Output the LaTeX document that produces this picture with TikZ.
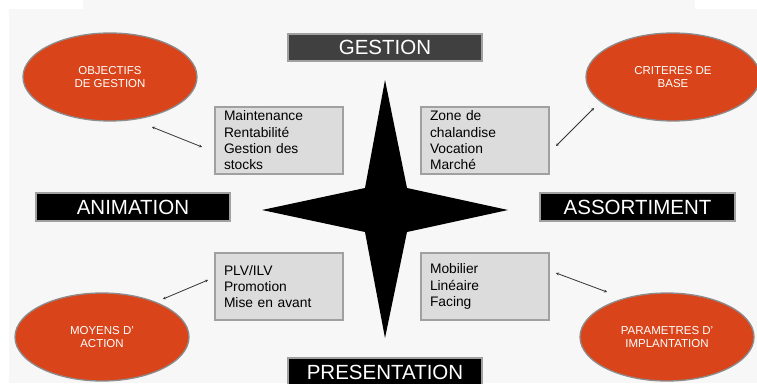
\documentclass[tikz,border=0pt]{standalone}
\usepackage{fontspec}
\setmainfont{Liberation Sans}
\usetikzlibrary{shapes.geometric,arrows.meta}

\definecolor{cf7f7f7}{RGB}{247,247,247}
\definecolor{cd9441a}{RGB}{217,68,26}
\definecolor{c8c8c8c}{RGB}{140,140,140}
\definecolor{cdcdcdc}{RGB}{220,220,220}
\definecolor{ca0a0a0}{RGB}{160,160,160}
\definecolor{c404040}{RGB}{64,64,64}
\definecolor{c333333}{RGB}{51,51,51}

\tikzset{
  bubble/.style={ellipse, fill=cd9441a, draw=c8c8c8c, line width=1.3pt,
    minimum width=174, minimum height=88, inner sep=0pt, text=white,
    align=center, font=\fontsize{11.5}{13.3}\selectfont},
  listbox/.style={rectangle, fill=cdcdcdc, draw=ca0a0a0, line width=1.3pt,
    minimum height=67, text width=110, inner xsep=9, inner ysep=0pt,
    align=left, font=\fontsize{13.8}{16.3}\selectfont},
  titlebox/.style={rectangle, fill=black, draw=ca0a0a0, line width=1.3pt,
    minimum width=194, minimum height=28, inner sep=0pt, text=white,
    font=\fontsize{20.5}{24}\selectfont},
  link/.style={draw=c333333, line width=0.8pt,
    {Stealth[length=3pt,width=3pt]}-{Stealth[length=3pt,width=3pt]}}
}

\begin{document}
\begin{tikzpicture}[y=1pt, x=1pt, yscale=-1, xscale=1]
\useasboundingbox (0,0) rectangle (757,383);
\clip (0,0) rectangle (757,383);
\begin{scope}% background
  \fill[white] (0,0) rectangle (757,383);
  \fill[cf7f7f7] (9,9) rectangle (757,383);
  \fill[cf7f7f7] (83,0) rectangle (695,9);
\end{scope}
\begin{scope}% star
  \fill[black] (385,80) -- (407,188) -- (508,210) -- (407,232) -- (385,338)
    -- (365,232) -- (262,210) -- (365,188) -- cycle;
\end{scope}
\begin{scope}% titles
  \node[titlebox, fill=c404040, minimum height=27] (gestion) at (385,47.5) {GESTION};
  \node[titlebox] (animation) at (133,207) {ANIMATION};
  \node[titlebox, minimum width=195] (assortiment) at (637.5,207) {ASSORTIMENT};
  \node[titlebox] (presentation) at (385,372) {PRESENTATION};
\end{scope}
\begin{scope}% lists
  \node[listbox] (maint) at (279,140.5) {Maintenance\\Rentabilité\\Gestion des\\stocks};
  \node[listbox] (zone) at (485,140.5) {Zone de\\chalandise\\Vocation\\Marché};
  \node[listbox] (plv) at (279,286.5) {PLV/ILV\\Promotion\\Mise en avant};
  \node[listbox] (mobil) at (485,286.5) {Mobilier\\Linéaire\\Facing};
\end{scope}
\begin{scope}% bubbles
  \node[bubble] (objectifs) at (110,77) {OBJECTIFS\\DE GESTION};
  \node[bubble] (criteres) at (673,77) {CRITERES DE\\BASE};
  \node[bubble] (moyens) at (102,337) {MOYENS D'\\ACTION};
  \node[bubble] (parametres) at (667,337) {PARAMETRES D'\\IMPLANTATION};
\end{scope}
\begin{scope}% links
  \coordinate (objectifs-a) at (152,127);
  \coordinate (maint-a) at (202,147);
  \coordinate (criteres-a) at (594,108);
  \coordinate (zone-a) at (556,146);
  \coordinate (moyens-a) at (163,299);
  \coordinate (plv-a) at (208,280);
  \coordinate (parametres-a) at (607,292);
  \coordinate (mobil-a) at (556,273);
  \draw[link] (objectifs-a) -- (maint-a);
  \draw[link] (criteres-a) -- (zone-a);
  \draw[link] (moyens-a) -- (plv-a);
  \draw[link] (parametres-a) -- (mobil-a);
\end{scope}
\end{tikzpicture}
\end{document}
